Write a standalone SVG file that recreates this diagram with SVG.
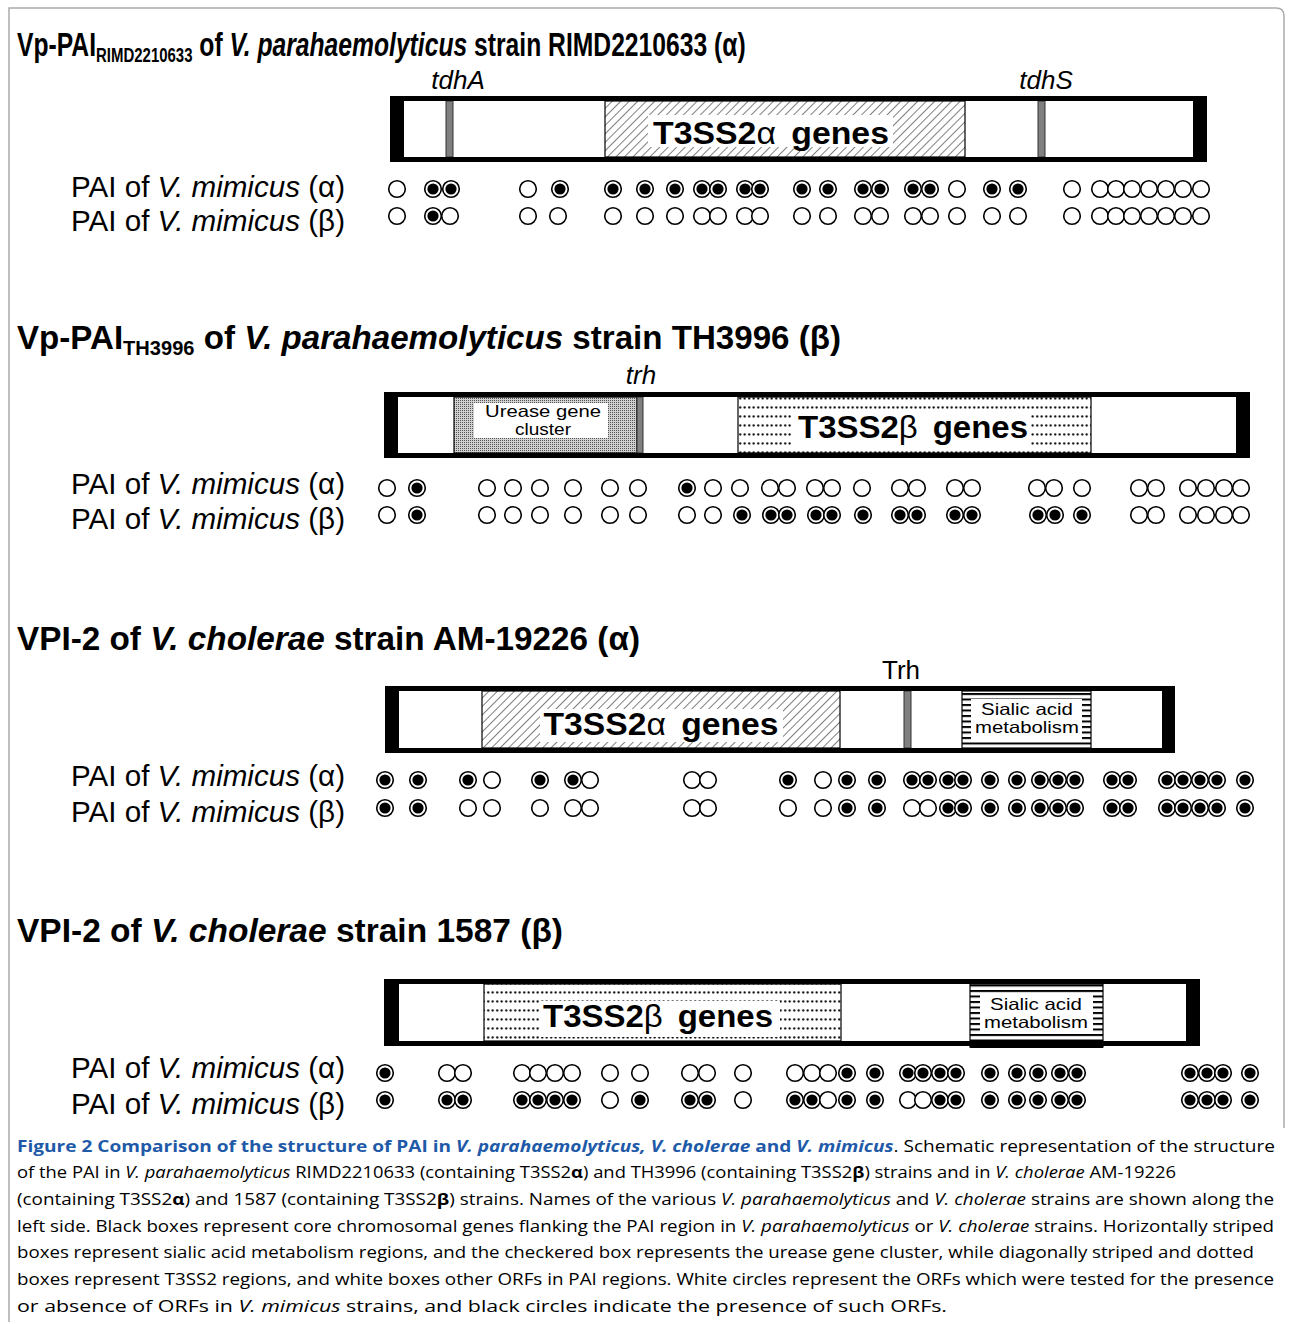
<svg xmlns="http://www.w3.org/2000/svg" xmlns:xlink="http://www.w3.org/1999/xlink" width="1292" height="1324" viewBox="0 0 1292 1324">
<style>
.t{font-family:"Liberation Sans",Arial,sans-serif;fill:#000}
.title{font-size:33px;font-weight:bold}
.lbl{font-size:29px}
.gene{font-size:26px;font-style:italic}
.big{font-size:31px;font-weight:bold}
.small{font-size:16.5px}
.cap{font-family:"Open Sans","Liberation Sans",sans-serif;font-size:16.5px;fill:#000}
.blue{fill:#1e5aa8;font-weight:bold}
.gl{fill:#808080;stroke:#333;stroke-width:1}
.reg{stroke:#000;stroke-width:1.2}
</style>
<defs>
<pattern id="hatch" width="6" height="6" patternUnits="userSpaceOnUse" patternTransform="rotate(45)">
<rect width="6" height="6" fill="#fff"/><line x1="0" y1="0" x2="0" y2="6" stroke="#000" stroke-width="1"/></pattern>
<pattern id="dots" width="4.5" height="9" patternUnits="userSpaceOnUse">
<rect width="4.5" height="9" fill="#fff"/><circle cx="2.2" cy="2.5" r="1.15" fill="#000"/></pattern>
<pattern id="check" width="2" height="2" patternUnits="userSpaceOnUse">
<rect width="2" height="2" fill="#d0d0d0"/><rect width="1" height="1" fill="#555"/></pattern>
<pattern id="stripes" width="10" height="5.5" patternUnits="userSpaceOnUse">
<rect width="10" height="5.5" fill="#fff"/><rect width="10" height="2" fill="#000"/></pattern>
<g id="o"><circle r="8.3" fill="#fff" stroke="#000" stroke-width="1.6"/></g>
<g id="f"><circle r="8.3" fill="#fff" stroke="#000" stroke-width="1.6"/><circle r="5.6" fill="#000"/></g>
</defs>
<rect width="1292" height="1324" fill="#fff"/>
<path id="frame" d="M9,1322 V8 H1276 Q1284,8 1284,16 V1128" fill="none" stroke="#aaa" stroke-width="1.5"/>

<g id="connectors"></g>

<!-- Section 1 -->
<g id="title1" transform="translate(17,0) scale(0.748,1)">
<text class="t title" font-size="30" x="0" y="56">Vp-PAI<tspan font-size="20" dy="6">RIMD2210633</tspan><tspan dy="-6"> of </tspan><tspan font-style="italic">V. parahaemolyticus</tspan> strain RIMD2210633 (α)</text>
</g>
<g id="box1">
<rect x="390" y="96" width="817" height="66" fill="#fff"/>
<rect x="605" y="101" width="360" height="56" fill="url(#hatch)" class="reg"/>
<rect x="648" y="115" width="245" height="32" fill="#fff"/>
<text class="t big" x="771" y="144" text-anchor="middle" textLength="236" lengthAdjust="spacingAndGlyphs">T3SS2<tspan font-weight="normal">α</tspan><tspan dx="14">genes</tspan></text>
<rect x="446" y="101" width="7" height="56" class="gl"/>
<rect x="1038" y="101" width="7" height="56" class="gl"/>
<rect x="390" y="96" width="817" height="5"/>
<rect x="390" y="157" width="817" height="5"/>
<rect x="390" y="96" width="14" height="66"/>
<rect x="1193" y="96" width="14" height="66"/>
<text class="t gene" x="458" y="89" text-anchor="middle">tdhA</text>
<text class="t gene" x="1046" y="89" text-anchor="middle">tdhS</text>
</g>
<g id="labels1">
<text class="t lbl" x="71" y="197" textLength="274" lengthAdjust="spacingAndGlyphs">PAI of <tspan font-style="italic">V. mimicus</tspan> (α)</text>
<text class="t lbl" x="71" y="231" textLength="274" lengthAdjust="spacingAndGlyphs">PAI of <tspan font-style="italic">V. mimicus</tspan> (β)</text>
</g>
<g id="orfs1a" transform="translate(0,189)">
<use href="#o" x="397"/><use href="#f" x="433"/><use href="#f" x="451"/><use href="#o" x="528"/><use href="#f" x="560"/><use href="#f" x="613"/><use href="#f" x="645"/><use href="#f" x="675"/><use href="#f" x="702"/><use href="#f" x="718"/><use href="#f" x="745"/><use href="#f" x="760"/><use href="#f" x="802"/><use href="#f" x="828"/><use href="#f" x="863"/><use href="#f" x="880"/><use href="#f" x="913"/><use href="#f" x="930"/><use href="#o" x="957"/><use href="#f" x="992"/><use href="#f" x="1018"/><use href="#o" x="1072"/><use href="#o" x="1100"/><use href="#o" x="1116"/><use href="#o" x="1132"/><use href="#o" x="1149"/><use href="#o" x="1166"/><use href="#o" x="1183"/><use href="#o" x="1201"/>
</g>
<g id="orfs1b" transform="translate(0,216)">
<use href="#o" x="397"/><use href="#o" x="450"/><use href="#f" x="433"/><use href="#o" x="528"/><use href="#o" x="558"/><use href="#o" x="613"/><use href="#o" x="645"/><use href="#o" x="675"/><use href="#o" x="702"/><use href="#o" x="718"/><use href="#o" x="745"/><use href="#o" x="760"/><use href="#o" x="802"/><use href="#o" x="828"/><use href="#o" x="863"/><use href="#o" x="880"/><use href="#o" x="913"/><use href="#o" x="930"/><use href="#o" x="957"/><use href="#o" x="992"/><use href="#o" x="1018"/><use href="#o" x="1072"/><use href="#o" x="1100"/><use href="#o" x="1116"/><use href="#o" x="1132"/><use href="#o" x="1149"/><use href="#o" x="1166"/><use href="#o" x="1183"/><use href="#o" x="1201"/>
</g>

<!-- Section 2 -->
<g id="title2">
<text class="t title" x="17" y="349" textLength="824" lengthAdjust="spacingAndGlyphs">Vp-PAI<tspan font-size="20" dy="6">TH3996</tspan><tspan dy="-6"> of </tspan><tspan font-style="italic">V. parahaemolyticus</tspan> strain TH3996 (β)</text>
</g>
<g id="box2">
<rect x="384" y="392" width="866" height="66" fill="#fff"/>
<rect x="454" y="397" width="183" height="56" fill="url(#check)" class="reg"/>
<rect x="474" y="403" width="134" height="35" fill="#fff"/>
<text class="t small" x="543" y="417" text-anchor="middle" textLength="116" lengthAdjust="spacingAndGlyphs">Urease gene</text>
<text class="t small" x="543" y="435" text-anchor="middle" textLength="56" lengthAdjust="spacingAndGlyphs">cluster</text>
<rect x="637" y="397" width="6" height="56" class="gl"/>
<rect x="738" y="397" width="353" height="56" fill="url(#dots)" class="reg"/>
<rect x="791" y="410" width="239" height="37" fill="#fff"/>
<text class="t big" x="913" y="438" text-anchor="middle" textLength="230" lengthAdjust="spacingAndGlyphs">T3SS2<tspan font-weight="normal">β</tspan><tspan dx="14">genes</tspan></text>
<rect x="384" y="392" width="866" height="5"/>
<rect x="384" y="453" width="866" height="5"/>
<rect x="384" y="392" width="14" height="66"/>
<rect x="1236" y="392" width="14" height="66"/>
<text class="t gene" x="641" y="384" text-anchor="middle">trh</text>
</g>
<g id="labels2">
<text class="t lbl" x="71" y="494" textLength="274" lengthAdjust="spacingAndGlyphs">PAI of <tspan font-style="italic">V. mimicus</tspan> (α)</text>
<text class="t lbl" x="71" y="529" textLength="274" lengthAdjust="spacingAndGlyphs">PAI of <tspan font-style="italic">V. mimicus</tspan> (β)</text>
</g>
<g id="orfs2a" transform="translate(0,488)">
<use href="#o" x="387"/><use href="#f" x="417"/><use href="#o" x="487"/><use href="#o" x="513"/><use href="#o" x="540"/><use href="#o" x="573"/><use href="#o" x="610"/><use href="#o" x="638"/><use href="#f" x="687"/><use href="#o" x="713"/><use href="#o" x="740"/><use href="#o" x="770"/><use href="#o" x="787"/><use href="#o" x="815"/><use href="#o" x="832"/><use href="#o" x="862"/><use href="#o" x="900"/><use href="#o" x="917"/><use href="#o" x="955"/><use href="#o" x="972"/><use href="#o" x="1037"/><use href="#o" x="1054"/><use href="#o" x="1082"/><use href="#o" x="1139"/><use href="#o" x="1156"/><use href="#o" x="1188"/><use href="#o" x="1206"/><use href="#o" x="1224"/><use href="#o" x="1241"/>
</g>
<g id="orfs2b" transform="translate(0,515)">
<use href="#o" x="387"/><use href="#f" x="417"/><use href="#o" x="487"/><use href="#o" x="513"/><use href="#o" x="540"/><use href="#o" x="573"/><use href="#o" x="610"/><use href="#o" x="638"/><use href="#o" x="687"/><use href="#o" x="713"/><use href="#f" x="742"/><use href="#f" x="771"/><use href="#f" x="787"/><use href="#f" x="816"/><use href="#f" x="832"/><use href="#f" x="863"/><use href="#f" x="900"/><use href="#f" x="917"/><use href="#f" x="955"/><use href="#f" x="972"/><use href="#f" x="1038"/><use href="#f" x="1055"/><use href="#f" x="1082"/><use href="#o" x="1139"/><use href="#o" x="1156"/><use href="#o" x="1188"/><use href="#o" x="1206"/><use href="#o" x="1224"/><use href="#o" x="1241"/>
</g>

<!-- Section 3 -->
<g id="title3">
<text class="t title" x="17" y="650" textLength="623" lengthAdjust="spacingAndGlyphs">VPI-2 of <tspan font-style="italic">V. cholerae</tspan> strain AM-19226 (α)</text>
</g>
<g id="box3">
<rect x="385" y="686" width="790" height="67" fill="#fff"/>
<rect x="482" y="691" width="358" height="57" fill="url(#hatch)" class="reg"/>
<rect x="540" y="709" width="243" height="33" fill="#fff"/>
<text class="t big" x="661" y="735" text-anchor="middle" textLength="235" lengthAdjust="spacingAndGlyphs">T3SS2<tspan font-weight="normal">α</tspan><tspan dx="14">genes</tspan></text>
<rect x="904" y="691" width="7" height="57" class="gl"/>
<rect x="962" y="691" width="129" height="57" fill="url(#stripes)" class="reg"/>
<rect x="971" y="699" width="111" height="41" fill="#fff"/>
<text class="t small" x="1027" y="715" text-anchor="middle" textLength="92" lengthAdjust="spacingAndGlyphs">Sialic acid</text>
<text class="t small" x="1027" y="733" text-anchor="middle" textLength="104" lengthAdjust="spacingAndGlyphs">metabolism</text>
<rect x="385" y="686" width="790" height="5"/>
<rect x="385" y="748" width="790" height="5"/>
<rect x="385" y="686" width="14" height="67"/>
<rect x="1162" y="686" width="13" height="67"/>
<text class="t" font-size="26" x="901" y="679" text-anchor="middle">Trh</text>
</g>
<g id="labels3">
<text class="t lbl" x="71" y="786" textLength="274" lengthAdjust="spacingAndGlyphs">PAI of <tspan font-style="italic">V. mimicus</tspan> (α)</text>
<text class="t lbl" x="71" y="822" textLength="274" lengthAdjust="spacingAndGlyphs">PAI of <tspan font-style="italic">V. mimicus</tspan> (β)</text>
</g>
<g id="orfs3a" transform="translate(0,780)">
<use href="#f" x="385"/><use href="#f" x="418"/><use href="#f" x="468"/><use href="#o" x="492"/><use href="#f" x="540"/><use href="#f" x="573"/><use href="#o" x="590"/><use href="#o" x="692"/><use href="#o" x="708"/><use href="#f" x="788"/><use href="#o" x="823"/><use href="#f" x="847"/><use href="#f" x="877"/><use href="#f" x="912"/><use href="#f" x="928"/><use href="#f" x="948"/><use href="#f" x="963"/><use href="#f" x="990"/><use href="#f" x="1017"/><use href="#f" x="1040"/><use href="#f" x="1058"/><use href="#f" x="1075"/><use href="#f" x="1112"/><use href="#f" x="1128"/><use href="#f" x="1167"/><use href="#f" x="1183"/><use href="#f" x="1200"/><use href="#f" x="1217"/><use href="#f" x="1245"/>
</g>
<g id="orfs3b" transform="translate(0,808)">
<use href="#f" x="385"/><use href="#f" x="418"/><use href="#o" x="468"/><use href="#o" x="492"/><use href="#o" x="540"/><use href="#o" x="573"/><use href="#o" x="590"/><use href="#o" x="692"/><use href="#o" x="708"/><use href="#o" x="788"/><use href="#o" x="823"/><use href="#f" x="847"/><use href="#f" x="877"/><use href="#o" x="912"/><use href="#o" x="928"/><use href="#f" x="948"/><use href="#f" x="963"/><use href="#f" x="990"/><use href="#f" x="1017"/><use href="#f" x="1040"/><use href="#f" x="1058"/><use href="#f" x="1075"/><use href="#f" x="1112"/><use href="#f" x="1128"/><use href="#f" x="1167"/><use href="#f" x="1183"/><use href="#f" x="1200"/><use href="#f" x="1217"/><use href="#f" x="1245"/>
</g>

<!-- Section 4 -->
<g id="title4">
<text class="t title" x="17" y="942" textLength="546" lengthAdjust="spacingAndGlyphs">VPI-2 of <tspan font-style="italic">V. cholerae</tspan> strain 1587 (β)</text>
</g>
<g id="box4">
<rect x="384" y="979" width="816" height="67" fill="#fff"/>
<rect x="484" y="984" width="357" height="57" fill="url(#dots)" class="reg"/>
<rect x="540" y="1001" width="240" height="36" fill="#fff"/>
<text class="t big" x="658" y="1027" text-anchor="middle" textLength="230" lengthAdjust="spacingAndGlyphs">T3SS2<tspan font-weight="normal">β</tspan><tspan dx="14">genes</tspan></text>
<rect x="970" y="984" width="133" height="63" fill="url(#stripes)" class="reg"/>
<rect x="980" y="993" width="113" height="41" fill="#fff"/>
<text class="t small" x="1036" y="1010" text-anchor="middle" textLength="92" lengthAdjust="spacingAndGlyphs">Sialic acid</text>
<text class="t small" x="1036" y="1028" text-anchor="middle" textLength="104" lengthAdjust="spacingAndGlyphs">metabolism</text>
<rect x="384" y="979" width="816" height="5"/>
<rect x="384" y="1041" width="816" height="5"/>
<rect x="970" y="1041" width="133" height="7"/>
<rect x="384" y="979" width="15" height="67"/>
<rect x="1186" y="979" width="14" height="67"/>
</g>
<g id="labels4">
<text class="t lbl" x="71" y="1078" textLength="274" lengthAdjust="spacingAndGlyphs">PAI of <tspan font-style="italic">V. mimicus</tspan> (α)</text>
<text class="t lbl" x="71" y="1114" textLength="274" lengthAdjust="spacingAndGlyphs">PAI of <tspan font-style="italic">V. mimicus</tspan> (β)</text>
</g>
<g id="orfs4a" transform="translate(0,1073)">
<use href="#f" x="385"/><use href="#o" x="447"/><use href="#o" x="463"/><use href="#o" x="522"/><use href="#o" x="538"/><use href="#o" x="555"/><use href="#o" x="572"/><use href="#o" x="610"/><use href="#o" x="640"/><use href="#o" x="690"/><use href="#o" x="707"/><use href="#o" x="743"/><use href="#o" x="795"/><use href="#o" x="812"/><use href="#o" x="828"/><use href="#f" x="847"/><use href="#f" x="875"/><use href="#f" x="908"/><use href="#f" x="923"/><use href="#f" x="940"/><use href="#f" x="956"/><use href="#f" x="990"/><use href="#f" x="1017"/><use href="#f" x="1038"/><use href="#f" x="1060"/><use href="#f" x="1077"/><use href="#f" x="1190"/><use href="#f" x="1207"/><use href="#f" x="1223"/><use href="#f" x="1250"/>
</g>
<g id="orfs4b" transform="translate(0,1100)">
<use href="#f" x="385"/><use href="#f" x="447"/><use href="#f" x="463"/><use href="#f" x="522"/><use href="#f" x="538"/><use href="#f" x="555"/><use href="#f" x="572"/><use href="#o" x="610"/><use href="#f" x="640"/><use href="#f" x="690"/><use href="#f" x="707"/><use href="#o" x="743"/><use href="#f" x="795"/><use href="#f" x="812"/><use href="#o" x="828"/><use href="#f" x="847"/><use href="#f" x="875"/><use href="#o" x="908"/><use href="#o" x="923"/><use href="#f" x="940"/><use href="#f" x="956"/><use href="#f" x="990"/><use href="#f" x="1017"/><use href="#f" x="1038"/><use href="#f" x="1060"/><use href="#f" x="1077"/><use href="#f" x="1190"/><use href="#f" x="1207"/><use href="#f" x="1223"/><use href="#f" x="1250"/>
</g>

<!-- Caption -->
<g id="caption">
<text class="cap" x="17" y="1152" textLength="1258" lengthAdjust="spacingAndGlyphs"><tspan class="blue">Figure 2 Comparison of the structure of PAI in </tspan><tspan class="blue" font-style="italic">V. parahaemolyticus, V. cholerae</tspan><tspan class="blue"> and </tspan><tspan class="blue" font-style="italic">V. mimicus</tspan>. Schematic representation of the structure</text>
<text class="cap" x="17" y="1178" textLength="1159" lengthAdjust="spacingAndGlyphs">of the PAI in <tspan font-style="italic">V. parahaemolyticus</tspan> RIMD2210633 (containing T3SS2<tspan font-weight="bold">α</tspan>) and TH3996 (containing T3SS2<tspan font-weight="bold">β</tspan>) strains and in <tspan font-style="italic">V. cholerae</tspan> AM-19226</text>
<text class="cap" x="17" y="1205" textLength="1257" lengthAdjust="spacingAndGlyphs">(containing T3SS2<tspan font-weight="bold">α</tspan>) and 1587 (containing T3SS2<tspan font-weight="bold">β</tspan>) strains. Names of the various <tspan font-style="italic">V. parahaemolyticus</tspan> and <tspan font-style="italic">V. cholerae</tspan> strains are shown along the</text>
<text class="cap" x="17" y="1232" textLength="1257" lengthAdjust="spacingAndGlyphs">left side. Black boxes represent core chromosomal genes flanking the PAI region in <tspan font-style="italic">V. parahaemolyticus</tspan> or <tspan font-style="italic">V. cholerae</tspan> strains. Horizontally striped</text>
<text class="cap" x="17" y="1258" textLength="1237" lengthAdjust="spacingAndGlyphs">boxes represent sialic acid metabolism regions, and the checkered box represents the urease gene cluster, while diagonally striped and dotted</text>
<text class="cap" x="17" y="1285" textLength="1257" lengthAdjust="spacingAndGlyphs">boxes represent T3SS2 regions, and white boxes other ORFs in PAI regions. White circles represent the ORFs which were tested for the presence</text>
<text class="cap" x="17" y="1312" textLength="930" lengthAdjust="spacingAndGlyphs">or absence of ORFs in <tspan font-style="italic">V. mimicus</tspan> strains, and black circles indicate the presence of such ORFs.</text>
</g>
</svg>
